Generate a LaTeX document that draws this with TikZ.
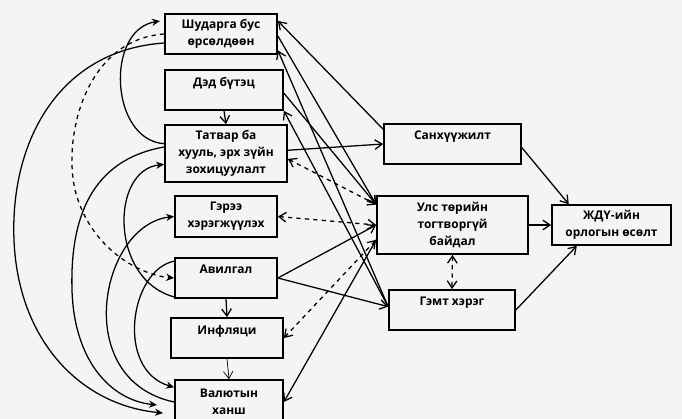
\documentclass[tikz,border=0pt]{standalone}
\usepackage{fontspec}
\setmainfont{Open Sans}
\usetikzlibrary{arrows.meta}
\definecolor{bggray}{RGB}{244,244,244}

\begin{document}
\begin{tikzpicture}[x=0.025cm, y=-0.025cm,
  every node/.style = {shape=rectangle, draw, line width=1.2pt,
    align=center, inner sep=0pt, font=\fontsize{8.5}{12}\selectfont\bfseries},
  link/.style = {line width=0.9pt, -{Straight Barb[length=1.8mm,width=2.4mm]}},
  both/.style = {line width=0.9pt, dashed,
    {Straight Barb[length=1.8mm,width=2.4mm]}-{Straight Barb[length=1.8mm,width=2.4mm]}},
  loop/.style = {line width=0.9pt, -{Stealth[length=2mm,width=1.8mm]}}]
  \fill[bggray] (0,0) rectangle (682,419);
  \useasboundingbox (0,0) rectangle (682,419);

  % left column
  \node[minimum width=2.8cm, minimum height=1cm] (unfair) at (221,34) {Шударга бус\\өрсөлдөөн};
  \node[minimum width=2.95cm, minimum height=1cm] (infra) at (224,90) {Дэд бүтэц\\~};
  \node[minimum width=3.05cm, minimum height=1.425cm] (tax) at (226,153.5) {Татвар ба\\хууль, эрх зүйн\\зохицуулалт};
  \node[minimum width=2.55cm, minimum height=1.025cm] (contract) at (226,216.5) {Гэрээ\\хэрэгжүүлэх};
  \node[minimum width=2.55cm, minimum height=1cm] (corrupt) at (226,278) {Авилгал\\~};
  \node[minimum width=2.8cm, minimum height=1cm] (inflation) at (227,338) {Инфляци\\~};
  \node[minimum width=2.7cm, minimum height=1.1cm] (exchange) at (229,402) {Валютын\\ханш};
  % middle and right
  \node[minimum width=3.425cm, minimum height=1cm] (finance) at (452.5,144) {Санхүүжилт\\~};
  \node[minimum width=3.775cm, minimum height=1.45cm] (instab) at (452.5,225) {Улс төрийн\\тогтворгүй\\байдал};
  \node[minimum width=3.15cm, minimum height=1cm] (crime) at (452,310) {Гэмт хэрэг\\~};
  \node[minimum width=2.975cm, minimum height=1cm] (growth) at (611.5,225) {ЖДҮ-ийн\\орлогын өсөлт};

  % straight links
  \draw[link] (infra.south) -- (tax.north);
  \draw[link] (corrupt.south) -- (inflation.north);
  \draw[link, line width=0.5pt] (inflation.south) -- (exchange.north);
  \draw[link] (finance.168) -- (unfair.13);
  \draw[link] (unfair.-2) -- (instab.165);
  \draw[link] (crime.177) -- (unfair.-16);
  \draw[link] (infra.-3) -- (instab.165);
  \draw[link] (crime.177) -- (infra.south east);
  \draw[link] (tax.3) -- (finance.west);
  \draw[both] (tax.-5) -- (instab.165);
  \draw[both] (contract.east) -- (instab.west);
  \draw[link] (corrupt.east) -- (instab.west);
  \draw[link] (corrupt.east) -- (crime.177);
  \draw[both] (inflation.east) -- (instab.191);
  \draw[link] (instab.191) -- (exchange.east);
  \draw[both] (instab.south) -- (crime.north);
  \draw[link] (finance.-3) -- (growth.154);
  \draw[link] (instab.east) -- (growth.west);
  \draw[link] (crime.east) -- (growth.211);

  % curved links on the left
  \draw[loop] (tax.171) .. controls (110,140) and (105,30) .. (160,21);
  \draw[loop, dashed] (unfair.west) .. controls (80,40) and (60,150) .. (78,200)
    .. controls (95,250) and (140,275) .. (corrupt.west);
  \draw[loop] (unfair.-171) .. controls (60,50) and (10,140) .. (14,240)
    .. controls (18,340) and (80,405) .. (163,413);
  \draw[loop] (tax.174) .. controls (90,160) and (70,220) .. (72,290)
    .. controls (74,360) and (110,400) .. (157,405);
  \draw[loop] (corrupt.-160) .. controls (110,280) and (110,170) .. (tax.-170);
  \draw[loop] (exchange.west) .. controls (70,380) and (100,225) .. (contract.west);
  \draw[loop] (corrupt.162) .. controls (130,270) and (115,370) .. (exchange.165);
\end{tikzpicture}
\end{document}
